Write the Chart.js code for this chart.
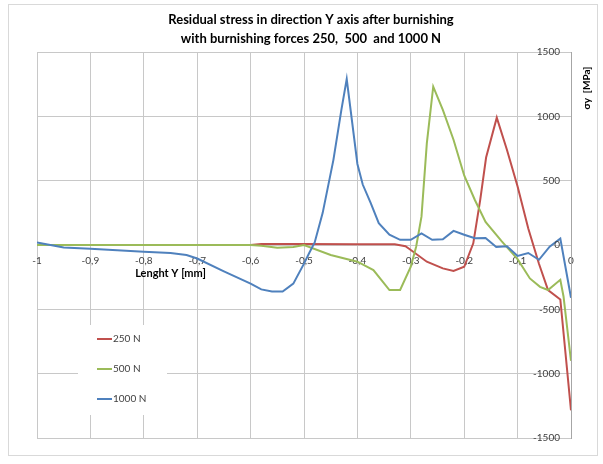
<!DOCTYPE html>
<html>
<head>
<meta charset="utf-8">
<script src="https://cdn.jsdelivr.net/npm/chart.js@4.4.0/dist/chart.umd.min.js"></script>
<style>
  html, body { margin: 0; padding: 0; background: #fff; }
  #wrap { width: 603px; height: 464px; }
</style>
</head>
<body>
<div id="wrap"><canvas id="stressChart" width="603" height="464"></canvas></div>
<script>
// Texts
const titleLines = ["Residual stress in direction Y axis after burnishing", "with burnishing forces 250,  500  and 1000 N"];
const xTitle = "Lenght Y [mm]";
const yTitle = "σy  [MPa]";
const seriesNames = ["250 N", "500 N", "1000 N"];
const seriesColors = ["#c0504d", "#9bbb59", "#4f81bd"];

// Axis ranges / ticks
const xTicks = [-1, 0, 0.1];      // min, max, step
const yTicks = [-1500, 1500, 500];

// 250 N
const x250 = [-1, -0.6, -0.58, -0.5, -0.4, -0.33, -0.31, -0.3, -0.27, -0.24, -0.22, -0.2, -0.183, -0.17, -0.159, -0.139, -0.12, -0.1, -0.08, -0.06, -0.043, -0.02, 0];
const y250 = [0, 0, 8, 8, 5, 5, -10, -39, -130, -182, -202, -169, 13, 350, 680, 990, 740, 455, 128, -146, -350, -423, -1285];

// 500 N
const x500 = [-1, -0.6, -0.58, -0.55, -0.52, -0.5, -0.45, -0.4, -0.37, -0.34, -0.32, -0.3, -0.29, -0.28, -0.27, -0.258, -0.24, -0.22, -0.2, -0.18, -0.16, -0.13, -0.1, -0.077, -0.058, -0.043, -0.02, -0.014, 0];
const y500 = [0, 0, -5, -22, -15, 0, -78, -130, -195, -350, -350, -169, -13, 220, 790, 1230, 1050, 818, 540, 350, 180, 30, -110, -260, -325, -350, -270, -400, -900];

// 1000 N
const x1000 = [-1, -0.95, -0.9, -0.85, -0.8, -0.75, -0.72, -0.7, -0.65, -0.6, -0.58, -0.56, -0.54, -0.52, -0.5, -0.49, -0.48, -0.465, -0.445, -0.43, -0.42, -0.4, -0.39, -0.375, -0.36, -0.34, -0.32, -0.3, -0.28, -0.26, -0.24, -0.22, -0.2, -0.18, -0.16, -0.14, -0.12, -0.1, -0.08, -0.06, -0.04, -0.02, 0];
const y1000 = [20, -20, -30, -40, -52, -62, -78, -105, -205, -300, -345, -362, -362, -300, -145, -60, 20, 250, 660, 1050, 1290, 630, 470, 325, 170, 80, 40, 40, 90, 40, 45, 110, 80, 52, 55, -15, -10, -85, -62, -115, -13, 50, -410];

function toPoints(xs, ys) {
    return xs.map((v, i) => ({x: v, y: ys[i]}));
}

function axisLabel(v) {
    let r = Math.round(v * 10) / 10;
    return String(r).replace('.', ',');
}

// Titles, frame, y tick labels and legend drawn on the canvas
const decorations = {
    id: 'decorations',
    beforeDraw(chart) {
        const ctx = chart.ctx;
        ctx.save();
        ctx.fillStyle = '#fff';
        ctx.fillRect(0, 0, chart.width, chart.height);
        ctx.strokeStyle = '#d9d9d9';
        ctx.lineWidth = 1;
        ctx.strokeRect(8.5, 4.5, 589, 451);
        ctx.restore();
    },
    afterDraw(chart) {
        const ctx = chart.ctx;
        const xs = chart.scales.x, ys = chart.scales.y;
        ctx.save();

        // y tick labels, inside the plot left of the axis line
        ctx.fillStyle = '#404040';
        ctx.font = '10px Lato';
        ctx.textAlign = 'right';
        ctx.textBaseline = 'middle';
        ys.ticks.forEach(t => {
            ctx.fillText(String(t.value), ys.left - 11, ys.getPixelForValue(t.value));
        });

        ctx.fillStyle = '#000';
        ctx.textAlign = 'center';
        ctx.font = 'bold 13px Lato';
        ctx.fillText(titleLines[0], 311, 20);
        ctx.fillText(titleLines[1], 311, 39);

        ctx.font = 'bold 11px Lato';
        ctx.fillText(xTitle, xs.getPixelForValue(-0.75), ys.getPixelForValue(0) + 28);

        ctx.save();
        ctx.translate(587, 88);
        ctx.rotate(-Math.PI / 2);
        ctx.font = 'bold 10px Lato';
        ctx.fillText(yTitle, 0, 0);
        ctx.restore();

        // legend
        ctx.fillStyle = '#fff';
        ctx.fillRect(78, 325, 89, 90);
        ctx.font = '10px Lato';
        ctx.textAlign = 'left';
        seriesNames.forEach((name, i) => {
            let yy = 339 + i * 30;
            ctx.strokeStyle = seriesColors[i];
            ctx.lineWidth = 2;
            ctx.beginPath();
            ctx.moveTo(97, yy);
            ctx.lineTo(112, yy);
            ctx.stroke();
            ctx.fillStyle = '#404040';
            ctx.fillText(name, 113, yy);
        });
        ctx.restore();
    }
};

const ctx = document.getElementById('stressChart').getContext('2d');
new Chart(ctx, {
    type: 'scatter',
    data: {
        datasets: [
            {label: seriesNames[0], data: toPoints(x250, y250), borderColor: seriesColors[0], order: 3},
            {label: seriesNames[1], data: toPoints(x500, y500), borderColor: seriesColors[1], order: 2},
            {label: seriesNames[2], data: toPoints(x1000, y1000), borderColor: seriesColors[2], order: 1}
        ]
    },
    options: {
        responsive: false,
        animation: false,
        showLine: true,
        elements: {
            line: {borderWidth: 2, tension: 0},
            point: {radius: 0}
        },
        layout: {padding: {left: 37, right: 32, top: 52, bottom: 26}},
        plugins: {
            legend: {display: false},
            title: {display: false},
            tooltip: {enabled: false}
        },
        scales: {
            x: {
                type: 'linear',
                min: xTicks[0], max: xTicks[1],
                position: {y: 0},
                ticks: {stepSize: xTicks[2], callback: axisLabel, color: '#404040', font: {family: 'Lato', size: 10}, padding: 10, maxRotation: 0},
                grid: {color: '#c8c8c8', drawTicks: false},
                border: {display: false}
            },
            y: {
                position: 'right',
                min: yTicks[0], max: yTicks[1],
                ticks: {stepSize: yTicks[2], display: false},
                grid: {color: '#c8c8c8', drawTicks: false},
                border: {color: '#a6a6a6'}
            }
        }
    },
    plugins: [decorations]
});
</script>
</body>
</html>
